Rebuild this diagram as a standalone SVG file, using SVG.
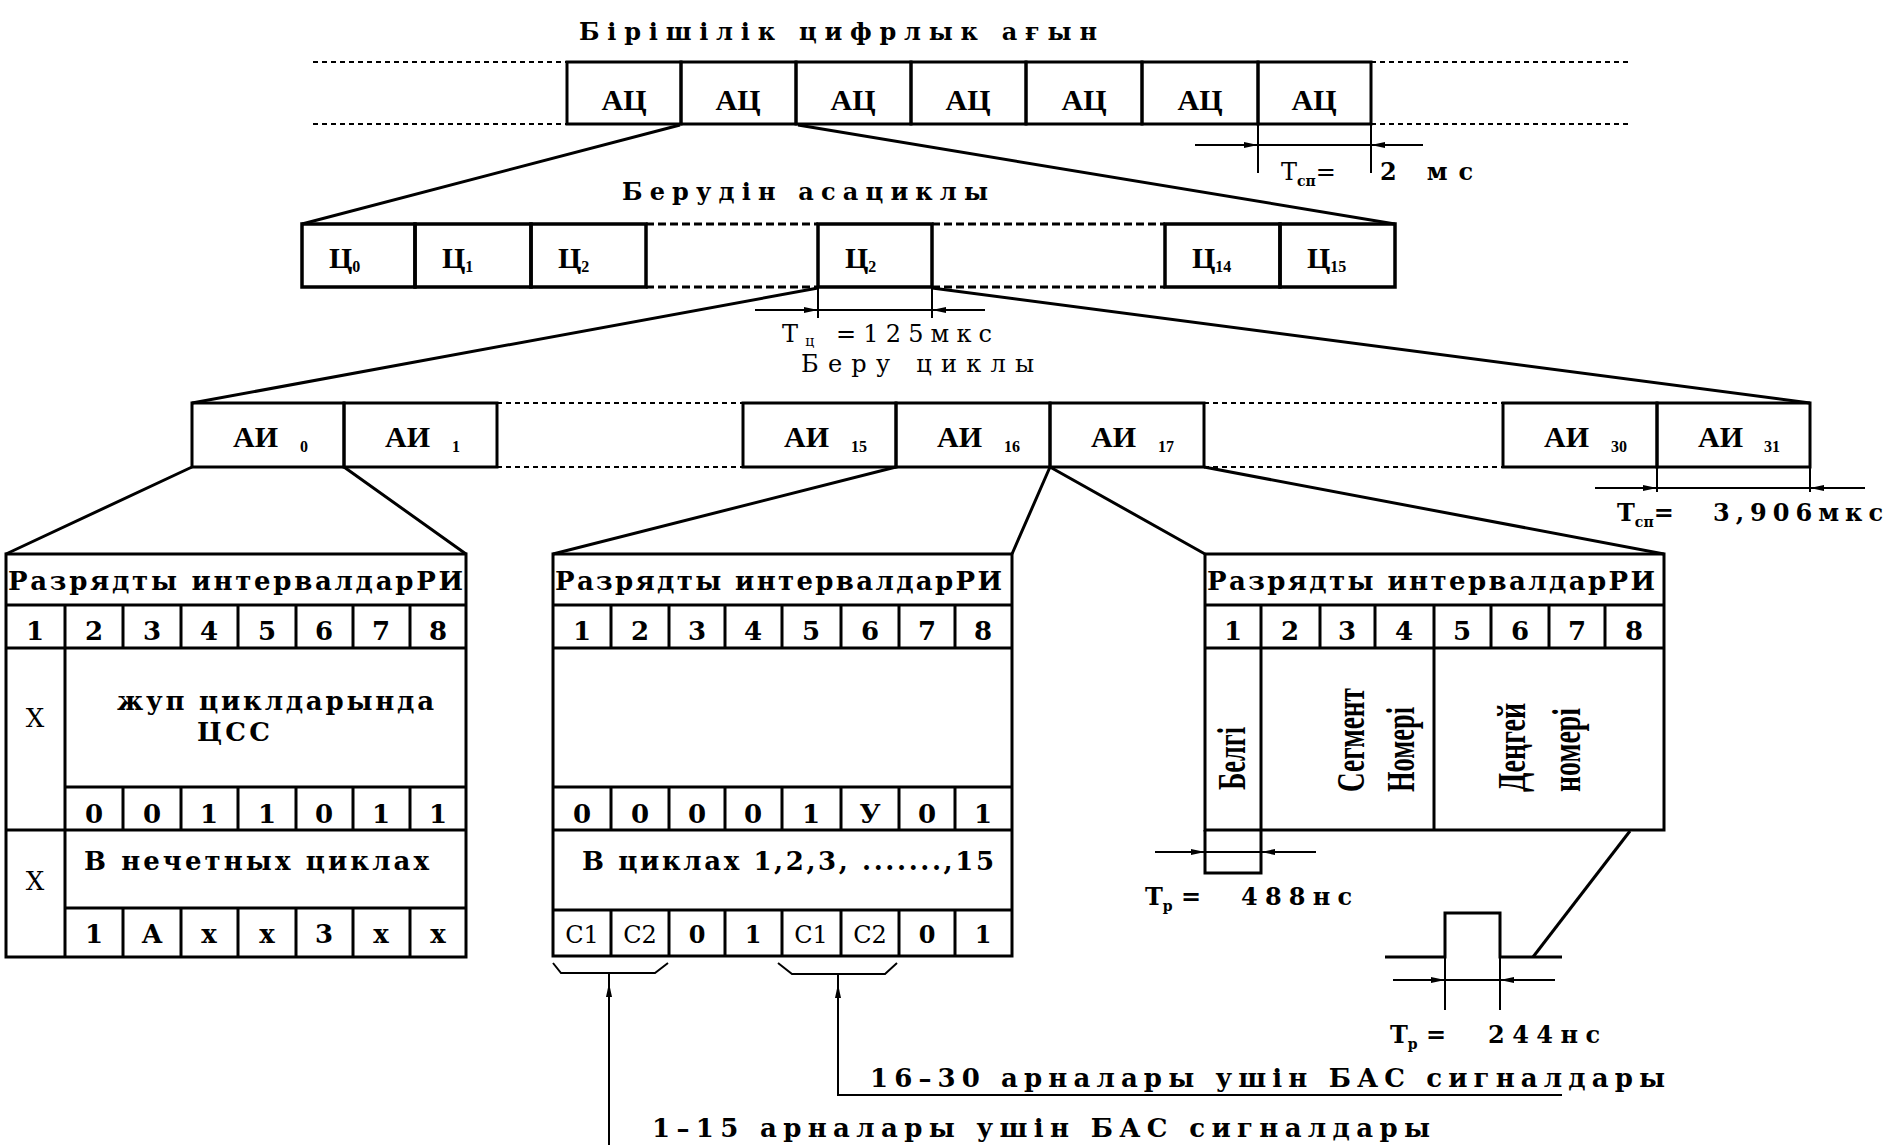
<svg xmlns="http://www.w3.org/2000/svg" width="1889" height="1145" viewBox="0 0 1889 1145">
<defs>
<style>
.ln{stroke:#000;fill:none;stroke-width:2}
.th{stroke-width:3}
.tk{stroke-width:3.5}
.d1{stroke-dasharray:5 4}
.d2{stroke-dasharray:8 4}
text{font-family:"DejaVu Serif","Liberation Serif",serif;fill:#000}
.ls{font-family:"Liberation Serif","DejaVu Serif",serif}
.b{font-weight:bold}
.m{text-anchor:middle}
.f30{font-size:30px}
.f26{font-size:26px}
.f24{font-size:24px}
.f16{font-size:16px}
.f14{font-size:14px}
.rv{font-family:"Liberation Serif",serif;font-size:40px;font-weight:bold}
</style>
<marker id="ah" markerWidth="14" markerHeight="8" refX="14" refY="4" orient="auto" markerUnits="userSpaceOnUse"><path d="M0,1 L14,4 L0,7 Z" fill="#000"/></marker>
</defs>
<rect width="1889" height="1145" fill="#fff"/>

<!-- titles -->
<text x="579" y="40" class="f24 b" textLength="518" lengthAdjust="spacing">Бірішілік цифрлык ағын</text>
<text x="622" y="200" class="f24 b" textLength="366" lengthAdjust="spacing">Берудін асациклы</text>
<text x="782" y="342" class="f24" textLength="210" lengthAdjust="spacing">T<tspan class="f14" dy="4">ц</tspan><tspan dy="-4"> =125мкс</tspan></text>
<text x="801" y="372" class="f24" textLength="233" lengthAdjust="spacing">Беру циклы</text>

<!-- row 1 -->
<g id="row1-dash">
<line class="ln d1" x1="313" y1="62" x2="567" y2="62"/>
<line class="ln d1" x1="313" y1="124" x2="567" y2="124"/>
<line class="ln d1" x1="1371" y1="62" x2="1632" y2="62"/>
<line class="ln d1" x1="1371" y1="124" x2="1632" y2="124"/>
</g>
<g id="ac1"><rect class="ln th" x="567" y="62" width="114" height="62"/><text class="ls f30 b m" x="624" y="110">АЦ</text></g>
<g id="ac2"><rect class="ln th" x="681" y="62" width="115" height="62"/><text class="ls f30 b m" x="738" y="110">АЦ</text></g>
<g id="ac3"><rect class="ln th" x="796" y="62" width="115" height="62"/><text class="ls f30 b m" x="853" y="110">АЦ</text></g>
<g id="ac4"><rect class="ln th" x="911" y="62" width="115" height="62"/><text class="ls f30 b m" x="968" y="110">АЦ</text></g>
<g id="ac5"><rect class="ln th" x="1026" y="62" width="116" height="62"/><text class="ls f30 b m" x="1084" y="110">АЦ</text></g>
<g id="ac6"><rect class="ln th" x="1142" y="62" width="116" height="62"/><text class="ls f30 b m" x="1200" y="110">АЦ</text></g>
<g id="ac7"><rect class="ln th" x="1258" y="62" width="113" height="62"/><text class="ls f30 b m" x="1314" y="110">АЦ</text></g>

<!-- row 2 -->
<g id="row2-dash">
<line class="ln th d2" x1="646" y1="224" x2="818" y2="224"/>
<line class="ln th d2" x1="646" y1="287" x2="818" y2="287"/>
<line class="ln th d2" x1="932" y1="224" x2="1165" y2="224"/>
<line class="ln th d2" x1="932" y1="287" x2="1165" y2="287"/>
</g>
<g id="c0"><rect class="ln tk" x="302" y="224" width="113" height="63"/><text class="ls f30 b" x="329" y="268">Ц<tspan class="f16" dy="4">0</tspan></text></g>
<g id="c1"><rect class="ln tk" x="415" y="224" width="116" height="63"/><text class="ls f30 b" x="442" y="268">Ц<tspan class="f16" dy="4">1</tspan></text></g>
<g id="c2"><rect class="ln tk" x="531" y="224" width="115" height="63"/><text class="ls f30 b" x="558" y="268">Ц<tspan class="f16" dy="4">2</tspan></text></g>
<g id="cz"><rect class="ln tk" x="818" y="224" width="114" height="63"/><text class="ls f30 b" x="845" y="268">Ц<tspan class="f16" dy="4">2</tspan></text></g>
<g id="c14"><rect class="ln tk" x="1165" y="224" width="115" height="63"/><text class="ls f30 b" x="1192" y="268">Ц<tspan class="f16" dy="4">14</tspan></text></g>
<g id="c15"><rect class="ln tk" x="1280" y="224" width="115" height="63"/><text class="ls f30 b" x="1307" y="268">Ц<tspan class="f16" dy="4">15</tspan></text></g>

<!-- row 3 -->
<g id="row3-dash">
<line class="ln d1" x1="497" y1="403" x2="743" y2="403"/>
<line class="ln d1" x1="497" y1="467" x2="743" y2="467"/>
<line class="ln d1" x1="1204" y1="403" x2="1503" y2="403"/>
<line class="ln d1" x1="1204" y1="467" x2="1503" y2="467"/>
</g>
<g id="ai0"><rect class="ln th" x="192" y="403" width="152" height="64"/><text class="ls f30 b" x="233" y="447">АИ</text><text class="ls f16 b" x="300" y="452">0</text></g>
<g id="ai1"><rect class="ln th" x="344" y="403" width="153" height="64"/><text class="ls f30 b" x="385" y="447">АИ</text><text class="ls f16 b" x="452" y="452">1</text></g>
<g id="ai15"><rect class="ln th" x="743" y="403" width="153" height="64"/><text class="ls f30 b" x="784" y="447">АИ</text><text class="ls f16 b" x="851" y="452">15</text></g>
<g id="ai16"><rect class="ln th" x="896" y="403" width="154" height="64"/><text class="ls f30 b" x="937" y="447">АИ</text><text class="ls f16 b" x="1004" y="452">16</text></g>
<g id="ai17"><rect class="ln th" x="1050" y="403" width="154" height="64"/><text class="ls f30 b" x="1091" y="447">АИ</text><text class="ls f16 b" x="1158" y="452">17</text></g>
<g id="ai30"><rect class="ln th" x="1503" y="403" width="154" height="64"/><text class="ls f30 b" x="1544" y="447">АИ</text><text class="ls f16 b" x="1611" y="452">30</text></g>
<g id="ai31"><rect class="ln th" x="1657" y="403" width="153" height="64"/><text class="ls f30 b" x="1698" y="447">АИ</text><text class="ls f16 b" x="1764" y="452">31</text></g>

<!-- table 1 -->
<g id="table1">
<rect class="ln th" x="6" y="554" width="460" height="403"/>
<path class="ln th" d="M6,605H466M6,648H466M65,605V957M65,787H466M6,830H466M65,908H466"/>
<path class="ln th" d="M123,605V648M181,605V648M238,605V648M296,605V648M353,605V648M410,605V648"/>
<path class="ln th" d="M123,787V830M181,787V830M238,787V830M296,787V830M353,787V830M410,787V830"/>
<path class="ln th" d="M123,908V957M181,908V957M238,908V957M296,908V957M353,908V957M410,908V957"/>
<text class="f26 b" x="8" y="590" textLength="455" lengthAdjust="spacing">Разрядты интервалдарРИ</text>
<g class="f26 b m">
<text x="35" y="640">1</text><text x="94" y="640">2</text><text x="152" y="640">3</text><text x="209" y="640">4</text><text x="267" y="640">5</text><text x="324" y="640">6</text><text x="381" y="640">7</text><text x="438" y="640">8</text>
<text x="94" y="823">0</text><text x="152" y="823">0</text><text x="209" y="823">1</text><text x="267" y="823">1</text><text x="324" y="823">0</text><text x="381" y="823">1</text><text x="438" y="823">1</text>
<text x="94" y="943">1</text><text x="152" y="943">А</text><text x="209" y="943">x</text><text x="267" y="943">x</text><text x="324" y="943">3</text><text x="381" y="943">x</text><text x="438" y="943">x</text>
</g>
<text class="f26 m" x="35" y="727">X</text>
<text class="f26 m" x="35" y="890">X</text>
<text class="f26 b" x="117" y="710" textLength="317" lengthAdjust="spacing">жуп циклдарында</text>
<text class="f26 b" x="197" y="741" textLength="73" lengthAdjust="spacing">ЦСС</text>
<text class="f26 b" x="84" y="870" textLength="345" lengthAdjust="spacing">В нечетных циклах</text>
</g>

<!-- table 2 -->
<g id="table2">
<rect class="ln th" x="553" y="554" width="459" height="402"/>
<path class="ln th" d="M553,605H1012M553,648H1012M553,787H1012M553,830H1012M553,910H1012"/>
<path class="ln th" d="M611,605V648M669,605V648M725,605V648M782,605V648M841,605V648M899,605V648M955,605V648"/>
<path class="ln th" d="M611,787V830M669,787V830M725,787V830M782,787V830M841,787V830M899,787V830M955,787V830"/>
<path class="ln th" d="M611,910V956M669,910V956M725,910V956M782,910V956M841,910V956M899,910V956M955,910V956"/>
<text class="f26 b" x="555" y="590" textLength="447" lengthAdjust="spacing">Разрядты интервалдарРИ</text>
<g class="f26 b m">
<text x="582" y="640">1</text><text x="640" y="640">2</text><text x="697" y="640">3</text><text x="753" y="640">4</text><text x="811" y="640">5</text><text x="870" y="640">6</text><text x="927" y="640">7</text><text x="983" y="640">8</text>
<text x="582" y="823">0</text><text x="640" y="823">0</text><text x="697" y="823">0</text><text x="753" y="823">0</text><text x="811" y="823">1</text><text x="870" y="823">У</text><text x="927" y="823">0</text><text x="983" y="823">1</text>
</g>
<g class="f24 m">
<text x="582" y="943">C1</text><text x="640" y="943">C2</text><text x="697" y="943" class="b">0</text><text x="753" y="943" class="b">1</text><text x="811" y="943">C1</text><text x="870" y="943">C2</text><text x="927" y="943" class="b">0</text><text x="983" y="943" class="b">1</text>
</g>
<text class="f26 b" x="582" y="870" textLength="412" lengthAdjust="spacing">В циклах 1,2,3, .......,15</text>
</g>

<!-- table 3 -->
<g id="table3">
<path class="ln th" d="M1205,554H1664V830H1205V554M1205,605H1664M1205,648H1664"/>
<path class="ln th" d="M1205,830V873H1261V605M1434,605V830"/>
<path class="ln th" d="M1320,605V648M1375,605V648M1491,605V648M1549,605V648M1605,605V648"/>
<text class="f26 b" x="1207" y="590" textLength="448" lengthAdjust="spacing">Разрядты интервалдарРИ</text>
<g class="f26 b m">
<text x="1233" y="640">1</text><text x="1290" y="640">2</text><text x="1347" y="640">3</text><text x="1404" y="640">4</text><text x="1462" y="640">5</text><text x="1520" y="640">6</text><text x="1577" y="640">7</text><text x="1634" y="640">8</text>
</g>
<text class="rv" transform="translate(1245,790) rotate(-90)" textLength="63" lengthAdjust="spacingAndGlyphs">Белгі</text>
<text class="rv" transform="translate(1364,792) rotate(-90)" textLength="104" lengthAdjust="spacingAndGlyphs">Сегмент</text>
<text class="rv" transform="translate(1414,792) rotate(-90)" textLength="85" lengthAdjust="spacingAndGlyphs">Номері</text>
<text class="rv" transform="translate(1525,792) rotate(-90)" textLength="89" lengthAdjust="spacingAndGlyphs">Деңгей</text>
<text class="rv" transform="translate(1580,792) rotate(-90)" textLength="84" lengthAdjust="spacingAndGlyphs">номері</text>
</g>

<!-- pulse -->
<g id="pulse">
<path class="ln th" d="M1385,957H1445V913H1500V957H1562"/>
</g>

<!-- connectors -->
<g id="connectors">
<path class="ln th" d="M680,125L302,224M798,125L1395,224"/>
<path class="ln th" d="M818,288L192,403M932,288L1810,403"/>
<path class="ln th" d="M192,467L6,554M344,467L466,554M896,467L553,554M1050,467L1012,554M1050,467L1205,554M1204,467L1664,554"/>
<path class="ln th" d="M1630,831L1533,957"/>
<path class="ln" d="M1258,124V173M1371,124V173M1258,145H1371"/>
<line class="ln" x1="1195" y1="145" x2="1258" y2="145" marker-end="url(#ah)"/>
<line class="ln" x1="1423" y1="145" x2="1371" y2="145" marker-end="url(#ah)"/>
<path class="ln" d="M818,288V318M932,288V318M818,310H932"/>
<line class="ln" x1="755" y1="310" x2="818" y2="310" marker-end="url(#ah)"/>
<line class="ln" x1="985" y1="310" x2="932" y2="310" marker-end="url(#ah)"/>
<path class="ln" d="M1657,467V492M1810,467V492M1657,488H1810"/>
<line class="ln" x1="1595" y1="488" x2="1657" y2="488" marker-end="url(#ah)"/>
<line class="ln" x1="1865" y1="488" x2="1810" y2="488" marker-end="url(#ah)"/>
<path class="ln" d="M1205,852H1261"/>
<line class="ln" x1="1155" y1="852" x2="1205" y2="852" marker-end="url(#ah)"/>
<line class="ln" x1="1316" y1="852" x2="1261" y2="852" marker-end="url(#ah)"/>
<path class="ln" d="M1445,957V1010M1500,957V1010M1445,980H1500"/>
<line class="ln" x1="1393" y1="980" x2="1445" y2="980" marker-end="url(#ah)"/>
<line class="ln" x1="1555" y1="980" x2="1500" y2="980" marker-end="url(#ah)"/>
<path class="ln" d="M553,963L561,973H655L668,963M609,973V977"/>
<path class="ln" d="M778,963L792,974H885L897,963M838,974V977"/>
<line class="ln" x1="609" y1="1145" x2="609" y2="983" marker-end="url(#ah)"/>
<line class="ln" x1="609" y1="983" x2="609" y2="975"/>
<path class="ln" d="M1562,1095H838V986"/>
<line class="ln" x1="838" y1="1000" x2="838" y2="984" marker-end="url(#ah)"/>
<line class="ln" x1="838" y1="984" x2="838" y2="975"/>
</g>

<!-- dimension labels -->
<text class="f24" x="1281" y="180">T<tspan class="f14 b" dy="6">сп</tspan><tspan dy="-6">=</tspan></text>
<text class="f24 b" x="1380" y="180" textLength="93" lengthAdjust="spacing">2 мс</text>
<text class="f24 b" x="1617" y="521">T<tspan class="f14" dy="6">сп</tspan><tspan dy="-6">=</tspan></text>
<text class="f24 b" x="1713" y="521" textLength="170" lengthAdjust="spacing">3,906мкс</text>
<text class="f24 b" x="1145" y="905">T<tspan class="f14" dy="6">р</tspan><tspan dy="-6"> =</tspan></text>
<text class="f24 b" x="1241" y="905" textLength="111" lengthAdjust="spacing">488нс</text>
<text class="f24 b" x="1390" y="1043">T<tspan class="f14" dy="6">р</tspan><tspan dy="-6"> =</tspan></text>
<text class="f24 b" x="1488" y="1043" textLength="112" lengthAdjust="spacing">244нс</text>
<text class="f26 b" x="870" y="1087" textLength="795" lengthAdjust="spacing">16–30 арналары ушін БАС сигналдары</text>
<text class="f26 b" x="652" y="1137" textLength="778" lengthAdjust="spacing">1–15 арналары ушін БАС сигналдары</text>
</svg>
